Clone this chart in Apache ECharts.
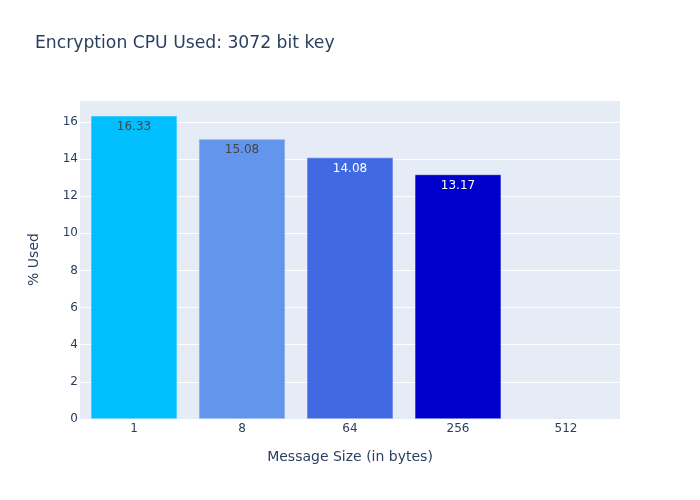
<!DOCTYPE html>
<html><head><meta charset="utf-8">
<script src="https://cdn.jsdelivr.net/npm/echarts@6/dist/echarts.min.js"></script>
<style>html,body{margin:0;padding:0;background:#fff}#c{width:700px;height:500px}</style>
</head><body><div id="c"></div>
<script>
const categories = ['1', '8', '64', '256', '512'];
const values = [16.33, 15.08, 14.08, 13.17, null];
const labels = ['16.33', '15.08', '14.08', '13.17', ''];
const colors = ['#00BFFF', '#6495ED', '#4169E1', '#0000CD', '#8A2BE2'];
const labelColors = ['#444444', '#444444', '#ffffff', '#ffffff', '#ffffff'];
const yTicks = [0, 2, 4, 6, 8, 10, 12, 14, 16];

const font = '"DejaVu Sans", Verdana, sans-serif';
const chart = echarts.init(document.getElementById('c'), null, {renderer: 'canvas'});
chart.setOption({
  animation: false,
  backgroundColor: '#ffffff',
  title: {
    text: 'Encryption CPU Used: 3072 bit key',
    left: 35, top: 35, padding: 0,
    textStyle: {fontFamily: font, fontSize: 17.2, fontWeight: 'normal', color: '#2a3f5f'}
  },
  grid: {left: 80, right: 80, top: 100, bottom: 81, show: true, backgroundColor: '#E5ECF6', borderWidth: 0},
  xAxis: {
    type: 'category', data: categories,
    name: 'Message Size (in bytes)', nameLocation: 'middle', nameGap: 31,
    nameTextStyle: {fontFamily: font, fontSize: 14, color: '#2a3f5f'},
    axisLine: {show: false}, axisTick: {show: false},
    axisLabel: {fontFamily: font, fontSize: 12, color: '#2a3f5f', margin: 4}
  },
  yAxis: {
    type: 'value', min: 0, max: 17.18, interval: 2,
    name: '% Used', nameLocation: 'middle', nameGap: 39,
    nameTextStyle: {fontFamily: font, fontSize: 14, color: '#2a3f5f'},
    axisLine: {show: false}, axisTick: {show: false},
    splitLine: {lineStyle: {color: '#ffffff', width: 1}},
    axisLabel: {fontFamily: font, fontSize: 12, color: '#2a3f5f', margin: 2,
      formatter: v => yTicks.includes(v) ? String(v) : ''}
  },
  series: [{
    type: 'bar', barWidth: '80%',
    data: values.map((v, i) => ({
      value: v,
      itemStyle: {color: colors[i], borderColor: '#E5ECF6', borderWidth: 0.5},
      label: {show: v !== null, position: 'insideTop', distance: 5, formatter: labels[i],
        fontFamily: font, fontSize: 12, color: labelColors[i]}
    }))
  }]
});
</script></body></html>
